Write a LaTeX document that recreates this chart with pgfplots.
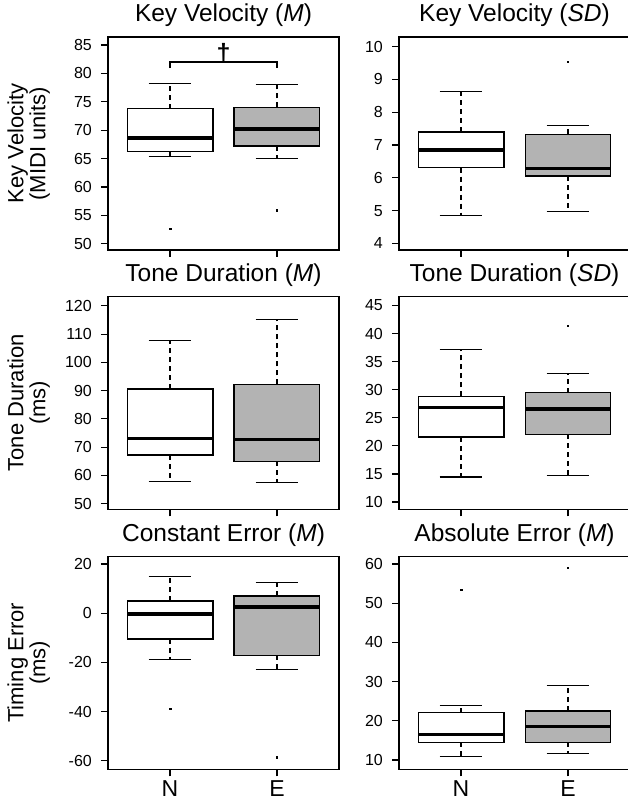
\documentclass[border=0pt]{standalone}
\usepackage{fontspec}
\setmainfont{Liberation Sans}
\usepackage{pgfplots}
\usepgfplotslibrary{statistics}
\pgfplotsset{compat=1.18}
\definecolor{boxgray}{RGB}{179,179,179}

\pgfplotsset{
  rpanel/.style={
    scale only axis, width=231pt, height=213pt,
    xmin=0.42, xmax=2.58,
    xtick={1,2}, xticklabels={},
    tick align=outside, tick pos=left,
    major tick length=7pt,
    axis line style={line width=1.2pt},
    every tick/.style={line width=1.2pt, black},
    /pgf/number format/assume math mode=true,
    yticklabel style={font=\fontsize{16}{16}\selectfont, inner sep=0pt, anchor=east, xshift=-9pt},
    xticklabel style={font=\fontsize{23}{23}\selectfont, inner sep=0pt, anchor=north, yshift=-4pt},
    title style={font=\fontsize{24.5}{24.5}\selectfont, at={(0.5,1)}, anchor=base, yshift=9pt, inner sep=0pt},
    ylabel style={font=\fontsize{22}{22}\selectfont, align=center, at={(axis description cs:-0.251,0.5)}, anchor=south, inner sep=0pt},
    boxplot/draw direction=y,
    boxplot/box extend=0.8,
    boxplot/whisker extend=0.4,
    boxplot/every box/.style={draw=black, line width=1.4pt},
    boxplot/every median/.style={line width=3.5pt},
    boxplot/draw/lower whisker/.code={%
      \draw[line width=1.1pt, dash pattern=on 5pt off 4pt]
        (boxplot box cs:\pgfplotsboxplotvalue{lower quartile},0.5) --
        (boxplot box cs:\pgfplotsboxplotvalue{lower whisker},0.5);
      \draw[line width=1.1pt]
        (boxplot whisker cs:\pgfplotsboxplotvalue{lower whisker},0) --
        (boxplot whisker cs:\pgfplotsboxplotvalue{lower whisker},1);
    },
    boxplot/draw/upper whisker/.code={%
      \draw[line width=1.1pt, dash pattern=on 5pt off 4pt]
        (boxplot box cs:\pgfplotsboxplotvalue{upper quartile},0.5) --
        (boxplot box cs:\pgfplotsboxplotvalue{upper whisker},0.5);
      \draw[line width=1.1pt]
        (boxplot whisker cs:\pgfplotsboxplotvalue{upper whisker},0) --
        (boxplot whisker cs:\pgfplotsboxplotvalue{upper whisker},1);
    },
  },
  nbox/.style={black, mark=square*, mark size=0.7pt, boxplot/every box/.append style={fill=white}},
  ebox/.style={black, mark=square*, mark size=0.7pt, boxplot/every box/.append style={fill=boxgray}},
}

\begin{document}
\begin{tikzpicture}
\useasboundingbox (0,0) rectangle (628pt,800pt);

% ---------- Row 1 left: Key Velocity (M)
\begin{axis}[rpanel, at={(108pt,550pt)}, anchor=south west,
  ymin=48.89, ymax=86.41, ytick={50,55,60,65,70,75,80,85},
  title={Key Velocity (\textit{M})}, ylabel={Key Velocity\\(MIDI units)}]
\addplot[nbox, boxplot prepared={draw position=1, lower whisker=65.35, lower quartile=66.2, median=68.65, upper quartile=73.8, upper whisker=78.2}]
  table[row sep=\\, y index=0] {v\\52.65\\};
\addplot[ebox, boxplot prepared={draw position=2, lower whisker=64.95, lower quartile=67.2, median=70.24, upper quartile=74.0, upper whisker=78.1}]
  table[row sep=\\, y index=0] {v\\55.9\\};
\addplot[black, line width=1.2pt, mark=none] coordinates {(1,80.94) (1,82) (2,82) (2,80.94)};
\node[anchor=south, inner sep=0pt, font=\bfseries\fontsize{25}{25}\selectfont] at (axis cs:1.5,81.8) {†};
\end{axis}

% ---------- Row 1 right: Key Velocity (SD)
\begin{axis}[rpanel, at={(399pt,550pt)}, anchor=south west,
  ymin=3.80, ymax=10.29, ytick={4,5,6,7,8,9,10},
  title={Key Velocity (\textit{SD})}]
\addplot[nbox, boxplot prepared={draw position=1, lower whisker=4.86, lower quartile=6.31, median=6.84, upper quartile=7.40, upper whisker=8.64}]
  coordinates {};
\addplot[ebox, boxplot prepared={draw position=2, lower whisker=4.96, lower quartile=6.05, median=6.28, upper quartile=7.32, upper whisker=7.60}]
  table[row sep=\\, y index=0] {v\\9.53\\};
\end{axis}

% ---------- Row 2 left: Tone Duration (M)
\begin{axis}[rpanel, at={(108pt,290.7pt)}, anchor=south west,
  ymin=48.0, ymax=123.4, ytick={50,60,70,80,90,100,110,120},
  title={Tone Duration (\textit{M})}, ylabel={Tone Duration\\(ms)}]
\addplot[nbox, boxplot prepared={draw position=1, lower whisker=57.8, lower quartile=67.2, median=73.1, upper quartile=90.6, upper whisker=107.8}]
  coordinates {};
\addplot[ebox, boxplot prepared={draw position=2, lower whisker=57.4, lower quartile=65.0, median=72.7, upper quartile=92.2, upper whisker=115.1}]
  coordinates {};
\end{axis}

% ---------- Row 2 right: Tone Duration (SD)
\begin{axis}[rpanel, at={(399pt,290.7pt)}, anchor=south west,
  ymin=8.7, ymax=46.65, ytick={10,15,20,25,30,35,40,45},
  title={Tone Duration (\textit{SD})}]
\addplot[nbox, boxplot prepared={draw position=1, lower whisker=14.45, lower quartile=21.57, median=26.8, upper quartile=28.8, upper whisker=37.2}]
  coordinates {};
\addplot[ebox, boxplot prepared={draw position=2, lower whisker=14.7, lower quartile=22.05, median=26.55, upper quartile=29.5, upper whisker=32.9}]
  table[row sep=\\, y index=0] {v\\41.4\\};
\end{axis}

% ---------- Row 3 left: Constant Error (M)
\begin{axis}[rpanel, at={(108pt,30.7pt)}, anchor=south west,
  ymin=-63.5, ymax=23.1, ytick={-60,-40,-20,0,20},
  xticklabels={N,E},
  title={Constant Error (\textit{M})}, ylabel={Timing Error\\(ms)}]
\addplot[nbox, boxplot prepared={draw position=1, lower whisker=-18.8, lower quartile=-10.45, median=-0.3, upper quartile=5.0, upper whisker=15.0}]
  table[row sep=\\, y index=0] {v\\-38.9\\};
\addplot[ebox, boxplot prepared={draw position=2, lower whisker=-23.0, lower quartile=-17.2, median=2.4, upper quartile=7.0, upper whisker=12.3}]
  table[row sep=\\, y index=0] {v\\-58.5\\};
\end{axis}

% ---------- Row 3 right: Absolute Error (M)
\begin{axis}[rpanel, at={(399pt,30.7pt)}, anchor=south west,
  ymin=7.63, ymax=61.96, ytick={10,20,30,40,50,60},
  xticklabels={N,E},
  title={Absolute Error (\textit{M})}]
\addplot[nbox, boxplot prepared={draw position=1, lower whisker=11.0, lower quartile=14.5, median=16.5, upper quartile=22.05, upper whisker=23.9}]
  table[row sep=\\, y index=0] {v\\53.4\\};
\addplot[ebox, boxplot prepared={draw position=2, lower whisker=11.6, lower quartile=14.5, median=18.5, upper quartile=22.5, upper whisker=28.9}]
  table[row sep=\\, y index=0] {v\\59.0\\};
\end{axis}
\end{tikzpicture}
\end{document}
